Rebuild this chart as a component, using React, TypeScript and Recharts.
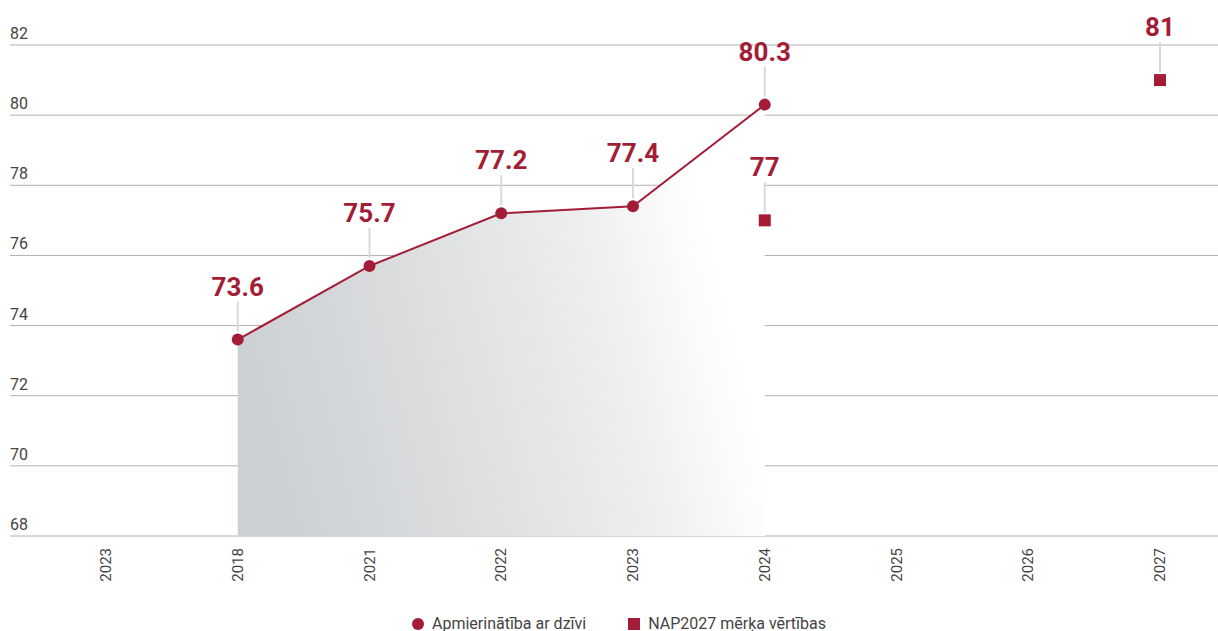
import React from "react";
import {
  ComposedChart,
  Line,
  Area,
  XAxis,
  YAxis,
  CartesianGrid,
  Legend,
  LabelList,
} from "recharts";

const years = ["2023", "2018", "2021", "2022", "2023", "2024", "2025", "2026", "2027"];
const satisfaction = [null, 73.6, 75.7, 77.2, 77.4, 80.3, null, null, null];
const targets = [null, null, null, null, null, 77, null, null, 81];
const yTicks = [68, 70, 72, 74, 76, 78, 80, 82];

const RED = "#a31d37";
const TEXT = "#444";
const FONT = "Roboto, sans-serif";

const data = years.map((year, i) => ({
  idx: i,
  year,
  actual: satisfaction[i],
  target: targets[i],
}));

const YTick = (props: any) => {
  const { y, payload } = props;
  return (
    <text x={10} y={y - 6} fill={TEXT} fontSize={16} fontFamily={FONT} textAnchor="start">
      {payload.value}
    </text>
  );
};

const XTick = (props: any) => {
  const { x, y, payload } = props;
  return (
    <text
      transform={`translate(${x + 5},${y + 4}) rotate(-90)`}
      fill={TEXT}
      fontSize={15}
      fontFamily={FONT}
      textAnchor="end"
    >
      {years[payload.value]}
    </text>
  );
};

const ValueLabel = (props: any) => {
  const { x, y, value } = props;
  if (value === null || value === undefined) return null;
  return (
    <g>
      <line x1={x} x2={x} y1={y - 38} y2={y - 8} stroke="#d9d9d9" strokeWidth={2} />
      <text
        x={x}
        y={y - 44}
        fill={RED}
        fontSize={26}
        fontWeight={700}
        fontFamily={FONT}
        textAnchor="middle"
      >
        {value}
      </text>
    </g>
  );
};

const SquareDot = (props: any) => {
  const { cx, cy, payload } = props;
  if (payload.target === null || payload.target === undefined) return null;
  return <rect x={cx - 6} y={cy - 6} width={12} height={12} fill={RED} />;
};

const LegendContent = () => (
  <div
    style={{
      display: "flex",
      justifyContent: "center",
      alignItems: "center",
      gap: 42,
      fontFamily: FONT,
      fontSize: 16,
      color: TEXT,
      paddingTop: 18,
      paddingLeft: 10,
    }}
  >
    <div style={{ display: "flex", alignItems: "center", gap: 8 }}>
      <span style={{ width: 12, height: 12, borderRadius: "50%", background: RED, display: "inline-block" }} />
      <span>Apmierinātība ar dzīvi</span>
    </div>
    <div style={{ display: "flex", alignItems: "center", gap: 8 }}>
      <span style={{ width: 12, height: 12, background: RED, display: "inline-block" }} />
      <span>NAP2027 mērķa vērtības</span>
    </div>
  </div>
);

export default function App() {
  return (
    <div style={{ width: 1218, height: 631, background: "#fff" }}>
      <style>{`body{margin:0}`}</style>
      <ComposedChart
        width={1218}
        height={631}
        data={data}
        margin={{ top: 45, right: 0, left: 10, bottom: 0 }}
      >
        <defs>
          {/* mostly horizontal fade, slightly lighter towards the top right */}
          <linearGradient id="areaFade" x1="0" y1="0.6" x2="1" y2="0.4">
            <stop offset="0%" stopColor="#ccd0d3" stopOpacity={1} />
            <stop offset="30%" stopColor="#d9dbdd" stopOpacity={1} />
            <stop offset="55%" stopColor="#e6e7e8" stopOpacity={1} />
            <stop offset="70%" stopColor="#efefef" stopOpacity={1} />
            <stop offset="84%" stopColor="#fafafa" stopOpacity={1} />
            <stop offset="92%" stopColor="#ffffff" stopOpacity={1} />
          </linearGradient>
        </defs>
        <CartesianGrid vertical={false} stroke="#b0b0b0" strokeWidth={1} />
        <XAxis
          dataKey="idx"
          type="category"
          scale="point"
          padding={{ left: 96, right: 58 }}
          axisLine={false}
          tickLine={false}
          height={60}
          interval={0}
          tick={<XTick />}
        />
        <YAxis
          domain={[68, 82]}
          ticks={yTicks}
          width={1}
          mirror
          axisLine={false}
          tickLine={false}
          tick={<YTick />}
          interval={0}
        />
        <Legend verticalAlign="bottom" height={35} content={<LegendContent />} />
        <Area
          dataKey="actual"
          type="linear"
          stroke="none"
          fill="url(#areaFade)"
          fillOpacity={1}
          baseValue={68}
          isAnimationActive={false}
          legendType="none"
        />
        <Line
          dataKey="actual"
          type="linear"
          stroke={RED}
          strokeWidth={2}
          dot={{ r: 6, fill: RED, stroke: RED, strokeWidth: 0 }}
          activeDot={false}
          isAnimationActive={false}
        >
          <LabelList dataKey="actual" content={<ValueLabel />} />
        </Line>
        <Line
          dataKey="target"
          type="linear"
          stroke="none"
          dot={<SquareDot />}
          activeDot={false}
          isAnimationActive={false}
        >
          <LabelList dataKey="target" content={<ValueLabel />} />
        </Line>
      </ComposedChart>
    </div>
  );
}
